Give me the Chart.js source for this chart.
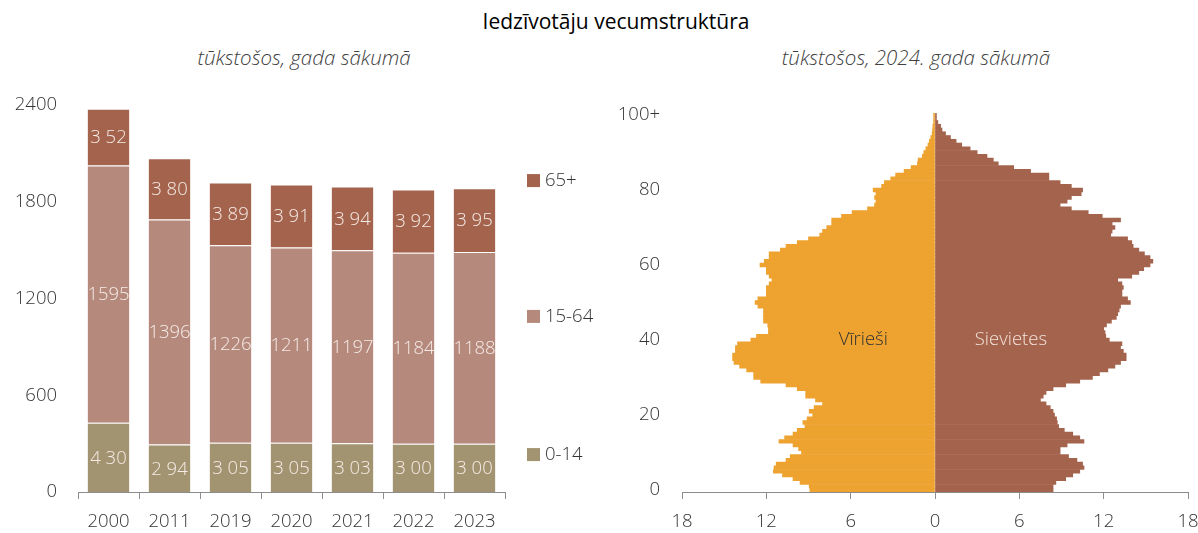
<!DOCTYPE html>
<html><head><meta charset="utf-8">
<script src="https://cdn.jsdelivr.net/npm/chart.js@4"></script>
<style>
html,body{margin:0;padding:0;background:#fff}
body{width:1198px;height:533px;position:relative;overflow:hidden;font-family:"Open Sans","Noto Sans",sans-serif}
#title{position:absolute;left:616px;top:7px;font-size:21px;color:#000;white-space:nowrap;transform:translateX(-50%)}
.sub{position:absolute;top:43px;font-style:italic;font-size:20.5px;font-weight:300;color:#404040;white-space:nowrap;transform:translateX(-50%)}
#c1{position:absolute;left:0;top:0}
#c2{position:absolute;left:600px;top:0}
</style></head><body>
<div id="title">Iedzīvotāju vecumstruktūra</div>
<div class="sub" style="left:304px">tūkstošos, gada sākumā</div>
<div class="sub" style="left:916px">tūkstošos, 2024. gada sākumā</div>
<canvas id="c1" width="600" height="533"></canvas>
<canvas id="c2" width="598" height="533"></canvas>
<script>
// ---- Left chart data ----
const years = ['2000','2011','2019','2020','2021','2022','2023'];
const age0_14 = [430, 294, 305, 305, 303, 300, 300];
const age15_64 = [1595, 1396, 1226, 1211, 1197, 1184, 1188];
const age65plus = [352, 380, 389, 391, 394, 392, 395];
const barSeriesNames = ['0-14', '15-64', '65+'];
const yTicksLeft = [0, 600, 1200, 1800, 2400];

// ---- Pyramid data (thousands, 2024) ----
const ageLabels = Array.from({length:101}, (_, i) => i === 100 ? '100+' : String(i));
const males = [8.9, 8.95, 9.6, 10.1, 10.85, 11.5, 11.45, 11.3, 10.6, 10.3,
  9.5, 9.7, 10.1, 11.1, 10.7, 10.1, 9.8, 9.25, 9.4, 9.1,
  8.7, 8.95, 8.6, 8.0, 8.5, 9.2, 9.2, 9.8, 10.6, 12.4,
  12.9, 12.9, 13.4, 13.9, 14.3, 14.4, 14.4, 14.2, 14.2, 14.05,
  13.1, 12.7, 11.85, 11.85, 11.9, 12.2, 12.2, 12.2, 12.2, 12.6,
  12.8, 12.6, 12.0, 12.0, 12.0, 11.8, 11.6, 11.8, 12.0, 12.0,
  12.45, 12.15, 11.8, 11.8, 11.0, 10.6, 9.8, 9.0, 8.2, 8.0,
  7.7, 7.35, 7.35, 6.65, 5.9, 4.8, 4.3, 4.2, 4.3, 4.2,
  4.4, 3.8, 3.6, 3.15, 2.8, 2.2, 1.7, 1.25, 1.2, 0.9,
  0.8, 0.65, 0.5, 0.4, 0.3, 0.2, 0.17, 0.15, 0.1, 0.1,
  0.1];
const females = [8.4, 8.4, 8.6, 9.3, 9.8, 10.3, 10.6, 10.5, 10.1, 9.5,
  8.9, 8.9, 9.4, 10.6, 10.3, 9.8, 9.2, 8.8, 8.7, 8.65,
  8.5, 8.4, 8.2, 7.9, 7.5, 7.7, 7.9, 8.4, 9.3, 10.3,
  11.2, 11.7, 12.3, 12.8, 13.2, 13.6, 13.6, 13.4, 13.2, 13.3,
  12.4, 12.15, 12.1, 12.0, 12.2, 12.55, 12.9, 13.0, 13.1, 13.2,
  13.9, 13.7, 13.3, 13.3, 13.4, 13.3, 13.0, 14.0, 14.5, 14.85,
  15.3, 15.5, 15.3, 14.9, 14.5, 14.1, 14.0, 13.7, 12.5, 12.6,
  12.8, 12.6, 13.2, 11.9, 10.9, 9.7, 8.9, 9.4, 9.7, 10.4,
  10.5, 9.7, 8.9, 8.1, 8.1, 6.8, 5.6, 4.5, 4.15, 3.7,
  3.0, 2.5, 1.9, 1.5, 1.1, 0.75, 0.5, 0.4, 0.2, 0.1,
  0.1];
const sexNames = ['Vīrieši', 'Sievietes'];
const xTicksRight = [-18, -12, -6, 0, 6, 12, 18];

const FONT = '"Open Sans","Noto Sans",sans-serif';
const FS = 18.5;
const C_0_14 = '#A39471', C_15_64 = '#B5897C', C_65 = '#A4634C', C_M = '#EEA22F', C_F = '#A4634C';

function fmtVal(v){
  const s = String(v);
  return v < 1000 ? s[0] + ' ' + s.slice(1) : s;
}

const barLabels = {
  id:'barLabels',
  afterDatasetsDraw(chart){
    const ctx = chart.ctx;
    ctx.save();
    ctx.font = '300 ' + FS + 'px ' + FONT;
    ctx.fillStyle = '#F5EBE6';
    ctx.textAlign = 'center';
    ctx.textBaseline = 'middle';
    chart.data.datasets.forEach((ds, di) => {
      chart.getDatasetMeta(di).data.forEach((el, i) => {
        ctx.fillText(fmtVal(ds.data[i]), el.x, (el.y + el.base) / 2 + 1);
      });
    });
    ctx.restore();
  }
};

const sideLegend = {
  id:'sideLegend',
  afterDraw(chart){
    const ctx = chart.ctx, a = chart.chartArea;
    const fr = [0.902, 0.545, 0.194];
    ctx.save();
    ctx.font = '300 ' + FS + 'px ' + FONT;
    ctx.textBaseline = 'middle';
    ctx.textAlign = 'left';
    chart.data.datasets.forEach((ds, i) => {
      const y = a.top + fr[i] * (a.bottom - a.top);
      ctx.fillStyle = ds.backgroundColor;
      ctx.fillRect(a.right + 22, y - 6, 13, 13);
      ctx.fillStyle = '#333';
      ctx.fillText(ds.label, a.right + 40, y + 1);
    });
    ctx.restore();
  }
};

new Chart(document.getElementById('c1'), {
  type:'bar',
  data:{
    labels: years,
    datasets:[
      {label:barSeriesNames[0], data:age0_14, backgroundColor:C_0_14},
      {label:barSeriesNames[1], data:age15_64, backgroundColor:C_15_64},
      {label:barSeriesNames[2], data:age65plus, backgroundColor:C_65}
    ]
  },
  options:{
    responsive:false, animation:false,
    layout:{padding:{top:105, right:95, left:0, bottom:0}},
    plugins:{legend:{display:false}, tooltip:{enabled:false}},
    datasets:{bar:{barPercentage:0.71, categoryPercentage:1, borderColor:'rgba(255,255,255,0.35)', borderWidth:1}},
    scales:{
      x:{stacked:true,
        grid:{drawOnChartArea:false, tickLength:7, color:'#8c8c8c'},
        border:{color:'#8c8c8c'},
        ticks:{color:'#333', font:{family:FONT, size:FS, weight:300}, padding:12, maxRotation:0},
        afterFit(s){ s.height = 41; }
      },
      y:{stacked:true, min:0, max:2400,
        afterBuildTicks(s){ s.ticks = yTicksLeft.map(v => ({value:v})); },
        ticks:{color:'#333', font:{family:FONT, size:FS, weight:300}, padding:21, callback:v => String(v)},
        grid:{display:false, drawTicks:false},
        border:{display:false},
        afterFit(s){ s.width = 78; }
      }
    }
  },
  plugins:[barLabels, sideLegend]
});

const sexLabels = {
  id:'sexLabels',
  afterDatasetsDraw(chart){
    const ctx = chart.ctx, xs = chart.scales.x, ys = chart.scales.y;
    const y = ys.getPixelForValue(40);
    ctx.save();
    ctx.font = '300 ' + FS + 'px ' + FONT;
    ctx.textAlign = 'center';
    ctx.textBaseline = 'middle';
    ctx.fillStyle = '#333';
    ctx.fillText(sexNames[0], xs.getPixelForValue(-5.1), y);
    ctx.fillStyle = '#F3E3DC';
    ctx.fillText(sexNames[1], xs.getPixelForValue(5.4), y);
    ctx.restore();
  }
};

new Chart(document.getElementById('c2'), {
  type:'bar',
  data:{
    labels: ageLabels,
    datasets:[
      {label:sexNames[0], data:males.map(v => -v), backgroundColor:C_M},
      {label:sexNames[1], data:females, backgroundColor:C_F}
    ]
  },
  options:{
    indexAxis:'y',
    responsive:false, animation:false,
    layout:{padding:{top:113, right:10, left:0, bottom:0}},
    plugins:{legend:{display:false}, tooltip:{enabled:false}},
    datasets:{bar:{barPercentage:1, categoryPercentage:1, borderWidth:0}},
    scales:{
      x:{stacked:true, min:-18, max:18,
        afterBuildTicks(s){ s.ticks = xTicksRight.map(v => ({value:v})); },
        ticks:{color:'#333', font:{family:FONT, size:FS, weight:300}, padding:12, callback:v => String(Math.abs(v))},
        grid:{drawOnChartArea:false, tickLength:7, color:'#8c8c8c'},
        border:{color:'#8c8c8c'},
        afterFit(s){ s.height = 41; s.paddingLeft = 0; s.paddingRight = 0; }
      },
      y:{stacked:true, reverse:true,
        ticks:{autoSkip:false, color:'#333', font:{family:FONT, size:FS, weight:300}, padding:22,
          callback:(v, i) => (i % 20 === 0 ? ageLabels[i] : null)},
        grid:{display:false, drawTicks:false},
        border:{display:false},
        afterFit(s){ s.width = 82; }
      }
    }
  },
  plugins:[sexLabels]
});
</script>
</body></html>
